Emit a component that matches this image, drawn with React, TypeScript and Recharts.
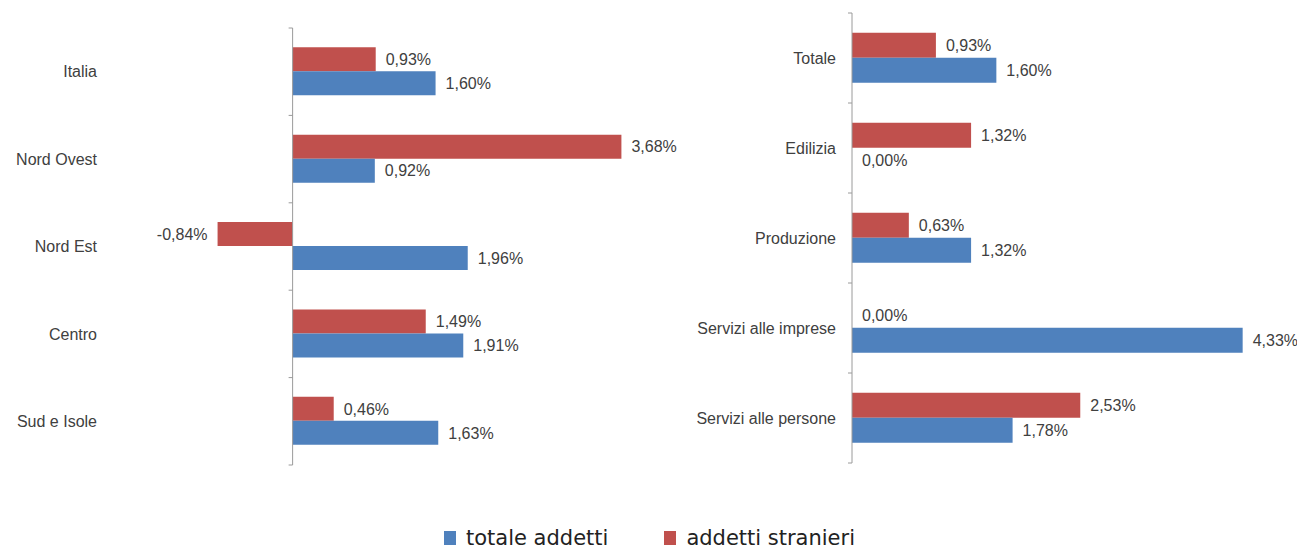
import { Bar, BarChart, LabelList, ReferenceLine, XAxis, YAxis } from "recharts";

const regioni = ["Italia", "Nord Ovest", "Nord Est", "Centro", "Sud e Isole"];
const totaleRegioni = [1.6, 0.92, 1.96, 1.91, 1.63];
const stranieriRegioni = [0.93, 3.68, -0.84, 1.49, 0.46];

const settori = ["Totale", "Edilizia", "Produzione", "Servizi alle imprese", "Servizi alle persone"];
const totaleSettori = [1.6, 0.0, 1.32, 4.33, 1.78];
const stranieriSettori = [0.93, 1.32, 0.63, 0.0, 2.53];

const BLUE = "#4F81BD";
const RED = "#C0504D";
const TEXT = "#404040";
const FONT = "'Liberation Sans', Arial, sans-serif";

const regioniData = regioni.map((name, i) => ({
  name,
  totale: totaleRegioni[i],
  stranieri: stranieriRegioni[i],
}));
const settoriData = settori.map((name, i) => ({
  name,
  totale: totaleSettori[i],
  stranieri: stranieriSettori[i],
}));

const fmt = (v: any) => Number(v).toFixed(2).replace(".", ",") + "%";

// vertical zero line with small ticks at the category boundaries
const axisShape = (count: number) => (props: any) => {
  const { x1, y1, y2 } = props;
  const step = (y2 - y1) / count;
  const marks = [];
  for (let i = 0; i <= count; i++) {
    const y = y1 + i * step;
    marks.push(<line key={i} x1={x1 - 4} y1={y} x2={x1} y2={y} stroke="#9a9a9a" strokeWidth={1} />);
  }
  return (
    <g>
      <line x1={x1} y1={y1} x2={x1} y2={y2} stroke="#9a9a9a" strokeWidth={1} />
      {marks}
    </g>
  );
};

interface PanelProps {
  data: { name: string; totale: number; stranieri: number }[];
  width: number;
  margin: { top: number; right: number; bottom: number; left: number };
  domain: [number, number];
  axisWidth: number;
  tickGap: number;
}

const Panel = ({ data, width, margin, domain, axisWidth, tickGap }: PanelProps) => (
  <BarChart
    width={width}
    height={480}
    data={data}
    layout="vertical"
    margin={margin}
    barCategoryGap="22%"
    barGap={0}
  >
    <XAxis type="number" domain={domain} allowDataOverflow hide />
    <YAxis
      type="category"
      dataKey="name"
      width={axisWidth}
      axisLine={false}
      tickLine={false}
      tickSize={0}
      tickMargin={tickGap}
      interval={0}
      tick={{ fill: TEXT, fontSize: 16, fontFamily: FONT }}
    />
    <Bar dataKey="stranieri" fill={RED} minPointSize={0.01} isAnimationActive={false}>
      <LabelList dataKey="stranieri" position="right" offset={10} formatter={fmt}
        fill={TEXT} fontSize={16} fontFamily={FONT} />
    </Bar>
    <Bar dataKey="totale" fill={BLUE} minPointSize={0.01} isAnimationActive={false}>
      <LabelList dataKey="totale" position="right" offset={10} formatter={fmt}
        fill={TEXT} fontSize={16} fontFamily={FONT} />
    </Bar>
    <ReferenceLine x={0} shape={axisShape(data.length)} />
  </BarChart>
);

const LegendItem = ({ color, label }: { color: string; label: string }) => (
  <div style={{ display: "flex", alignItems: "center" }}>
    <div style={{ width: 12, height: 14, background: color, marginRight: 10 }} />
    <span>{label}</span>
  </div>
);

export default function App() {
  return (
    <div style={{ position: "absolute", left: 0, top: 0, width: 1297, height: 550, background: "#fff" }}>
      <div style={{ position: "absolute", left: 0, top: 0 }}>
        <Panel
          data={regioniData}
          width={700}
          margin={{ top: 28, right: 50, bottom: 15, left: 0 }}
          domain={[-2.1, 4]}
          axisWidth={105}
          tickGap={8}
        />
      </div>
      <div style={{ position: "absolute", left: 660, top: 0 }}>
        <Panel
          data={settoriData}
          width={637}
          margin={{ top: 13, right: 39, bottom: 17, left: 0 }}
          domain={[0, 4.5]}
          axisWidth={192}
          tickGap={16}
        />
      </div>
      <div
        style={{
          position: "absolute",
          left: 444,
          top: 526,
          display: "flex",
          gap: 56,
          fontFamily: "'DejaVu Sans', Verdana, sans-serif",
          fontSize: 21,
          lineHeight: "24px",
          color: "#222",
        }}
      >
        <LegendItem color={BLUE} label="totale addetti" />
        <LegendItem color={RED} label="addetti stranieri" />
      </div>
    </div>
  );
}
